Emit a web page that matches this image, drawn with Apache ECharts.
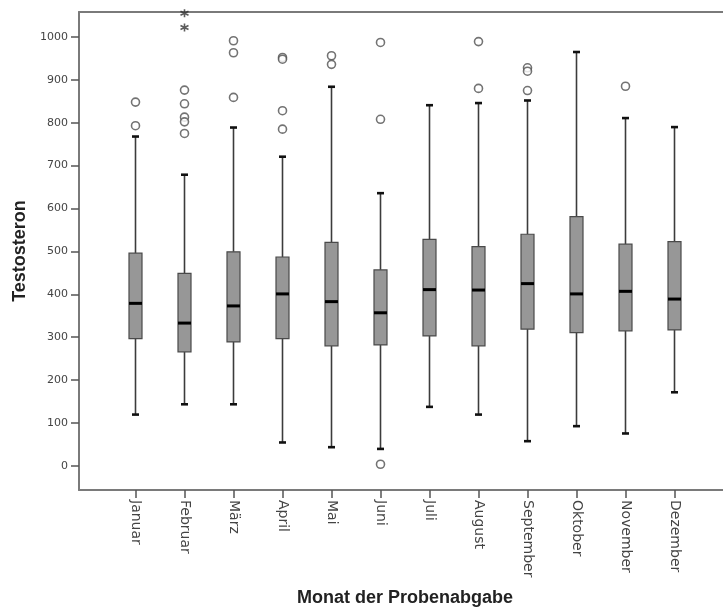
<!DOCTYPE html>
<html>
<head>
<meta charset="utf-8">
<script src="https://cdn.jsdelivr.net/npm/echarts@6/dist/echarts.min.js"></script>
<style>
html,body{margin:0;padding:0;background:#fff;}
#chart{width:723px;height:612px;}
</style>
</head>
<body>
<div id="chart"></div>
<script>
// ---- data ----
const months = ['Januar','Februar','März','April','Mai','Juni','Juli','August','September','Oktober','November','Dezember'];
const lowerWhisker = [120, 144, 144, 55, 44, 40, 138, 120, 58, 93, 76, 172];
const q1Values     = [297, 266, 289, 297, 280, 282, 303, 280, 319, 311, 315, 317];
const medianValues = [379, 333, 373, 401, 383, 357, 411, 410, 425, 401, 407, 389];
const q3Values     = [496, 449, 499, 487, 521, 457, 528, 511, 540, 581, 517, 523];
const upperWhisker = [768, 679, 789, 721, 884, 636, 841, 846, 852, 965, 811, 790];
// outliers: [month index, value]
const outliers = [
  [0, 848], [0, 793],
  [1, 876], [1, 844], [1, 813], [1, 802], [1, 775],
  [2, 991], [2, 963], [2, 859],
  [3, 952], [3, 948], [3, 828], [3, 785],
  [4, 956], [4, 936],
  [5, 987], [5, 808], [5, 4],
  [7, 989], [7, 880],
  [8, 928], [8, 920], [8, 875],
  [10, 885]
];
// extreme values (asterisks): [month index, value]
const extremes = [[1, 1055], [1, 1022]];
const yTickValues = [0, 100, 200, 300, 400, 500, 600, 700, 800, 900, 1000];

const boxData = months.map((m, i) => [i, lowerWhisker[i], q1Values[i], medianValues[i], q3Values[i], upperWhisker[i]]);

const chart = echarts.init(document.getElementById('chart'), null, {renderer: 'canvas'});

const labelColor = '#444';
const frameColor = '#7a7a7a';
const frameLine = {show: true, onZero: false, lineStyle: {color: frameColor, width: 2}};
const frameAxisBase = {show: true, min: 0, max: 1, axisLine: frameLine, axisTick: {show: false}, axisLabel: {show: false}, splitLine: {show: false}};

const option = {
  animation: false,
  backgroundColor: '#ffffff',
  grid: [
    {left: 111, width: 588, top: 12, bottom: 122, show: false},
    {left: 79, right: 0, top: 12, bottom: 122, show: false}
  ],
  xAxis: [
    {
      type: 'category', gridIndex: 0, data: months, boundaryGap: true,
      axisLine: {show: false, onZero: false},
      axisTick: {show: true, alignWithLabel: true, length: 8, lineStyle: {color: '#555', width: 1.5}},
      axisLabel: {rotate: -90, margin: 10, fontFamily: 'DejaVu Sans', fontSize: 14, color: labelColor},
      splitLine: {show: false},
      name: 'Monat der Probenabgabe', nameLocation: 'middle', nameGap: 99,
      nameTextStyle: {fontFamily: 'Liberation Sans', fontWeight: 'bold', fontSize: 18, color: '#222'}
    },
    Object.assign({type: 'value', gridIndex: 1, position: 'bottom'}, frameAxisBase),
    Object.assign({type: 'value', gridIndex: 1, position: 'top'}, frameAxisBase)
  ],
  yAxis: [
    {
      type: 'value', gridIndex: 0, min: -56, max: 1058, offset: 32,
      axisLine: {show: false, onZero: false},
      axisTick: {show: true, length: 8, customValues: yTickValues, lineStyle: {color: '#555', width: 1.5}},
      axisLabel: {customValues: yTickValues, margin: 11, fontFamily: 'DejaVu Sans', fontSize: 11, color: labelColor,
        formatter: function (v) { return String(v); }},
      splitLine: {show: false},
      name: 'Testosteron', nameLocation: 'middle', nameGap: 45, nameRotate: 90,
      nameTextStyle: {fontFamily: 'Liberation Sans', fontWeight: 'bold', fontSize: 18, color: '#222'}
    },
    Object.assign({type: 'value', gridIndex: 1, position: 'left'}, frameAxisBase)
  ],
  series: [
    {
      type: 'custom',
      xAxisIndex: 0, yAxisIndex: 0,
      data: boxData,
      encode: {x: 0, y: [1, 2, 3, 4, 5]},
      z: 3,
      renderItem: function (params, api) {
        const i = api.value(0);
        const lo = api.coord([i, api.value(1)]);
        const q1 = api.coord([i, api.value(2)]);
        const md = api.coord([i, api.value(3)]);
        const q3 = api.coord([i, api.value(4)]);
        const hi = api.coord([i, api.value(5)]);
        const x = lo[0];
        const hw = 6.5;
        const cw = 3.5;
        return {
          type: 'group',
          children: [
            {type: 'line', shape: {x1: x, y1: hi[1], x2: x, y2: q3[1]}, style: {stroke: '#3c3c3c', lineWidth: 1.6}},
            {type: 'line', shape: {x1: x, y1: q1[1], x2: x, y2: lo[1]}, style: {stroke: '#3c3c3c', lineWidth: 1.6}},
            {type: 'rect', shape: {x: x - cw, y: hi[1] - 1.2, width: cw * 2, height: 2.6}, style: {fill: '#111'}},
            {type: 'rect', shape: {x: x - cw, y: lo[1] - 1.2, width: cw * 2, height: 2.6}, style: {fill: '#111'}},
            {type: 'rect', shape: {x: x - hw, y: q3[1], width: hw * 2, height: q1[1] - q3[1]}, style: {fill: '#979797', stroke: '#4a4a4a', lineWidth: 1.2}},
            {type: 'line', shape: {x1: x - hw, y1: md[1], x2: x + hw, y2: md[1]}, style: {stroke: '#000', lineWidth: 3}}
          ]
        };
      }
    },
    {
      type: 'scatter',
      xAxisIndex: 0, yAxisIndex: 0,
      data: outliers,
      symbol: 'circle', symbolSize: 8,
      itemStyle: {color: '#ffffff', borderColor: '#505050', borderWidth: 1.6},
      z: 4
    },
    {
      type: 'scatter',
      xAxisIndex: 0, yAxisIndex: 0,
      data: extremes,
      clip: false,
      symbol: 'path://M5 0 L5 10 M0.67 2.5 L9.33 7.5 M0.67 7.5 L9.33 2.5',
      symbolSize: 8,
      itemStyle: {color: 'rgba(0,0,0,0)', borderColor: '#333', borderWidth: 1.6},
      z: 4
    }
  ]
};
chart.setOption(option);
</script>
</body>
</html>
